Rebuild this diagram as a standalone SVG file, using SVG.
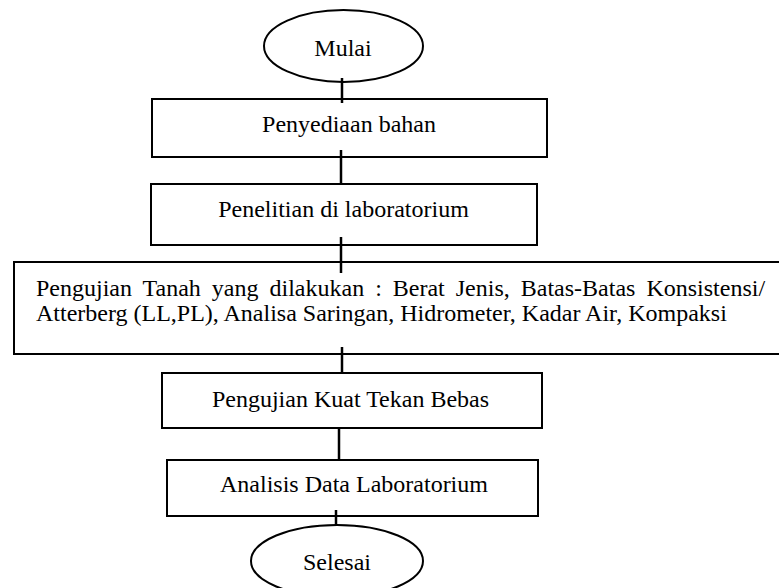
<svg xmlns="http://www.w3.org/2000/svg" width="779" height="588" viewBox="0 0 779 588">
<style>
  .shape { fill: #ffffff; stroke: #000000; stroke-width: 2; }
  .conn { stroke: #000000; stroke-width: 2.5; fill: none; }
  .lbl { font-family: "Liberation Serif", "Times New Roman", serif; font-size: 24px; fill: #000000; }
  .c { text-anchor: middle; }
</style>
<rect x="0" y="0" width="779" height="588" fill="#ffffff"/>
<g id="start">
  <ellipse class="shape" cx="343.5" cy="46" rx="79.5" ry="36"/>
  <text class="lbl c" x="343" y="56">Mulai</text>
</g>
<g id="penyediaan">
  <rect class="shape" x="152" y="99" width="395" height="58"/>
  <text class="lbl c" x="349" y="132">Penyediaan bahan</text>
</g>
<g id="penelitian">
  <rect class="shape" x="151" y="184" width="386" height="61"/>
  <text class="lbl c" x="343.5" y="217">Penelitian di laboratorium</text>
</g>
<g id="pengujian-tanah">
  <rect class="shape" x="14" y="262" width="780" height="92"/>
  <text class="lbl" x="36" y="295.5" word-spacing="5">Pengujian Tanah yang dilakukan : Berat Jenis, Batas-Batas Konsistensi/</text>
  <text class="lbl" x="36" y="321">Atterberg (LL,PL), Analisa Saringan, Hidrometer, Kadar Air, Kompaksi</text>
</g>
<g id="kuat-tekan">
  <rect class="shape" x="162" y="373" width="380" height="55"/>
  <text class="lbl c" x="350.5" y="406.5">Pengujian Kuat Tekan Bebas</text>
</g>
<g id="analisis">
  <rect class="shape" x="167" y="460" width="371" height="56"/>
  <text class="lbl c" x="354" y="491.5">Analisis Data Laboratorium</text>
</g>
<g id="end">
  <ellipse class="shape" cx="337" cy="561" rx="86" ry="36"/>
  <text class="lbl c" x="337" y="570">Selesai</text>
</g>
<g id="connectors">
  <line class="conn" x1="342" y1="78" x2="342" y2="103"/>
  <line class="conn" x1="341" y1="150" x2="341" y2="184"/>
  <line class="conn" x1="341" y1="237" x2="341" y2="273"/>
  <line class="conn" x1="342" y1="347" x2="342" y2="373"/>
  <line class="conn" x1="339" y1="428" x2="339" y2="460"/>
  <line class="conn" x1="336" y1="510" x2="336" y2="525"/>
</g>
</svg>
